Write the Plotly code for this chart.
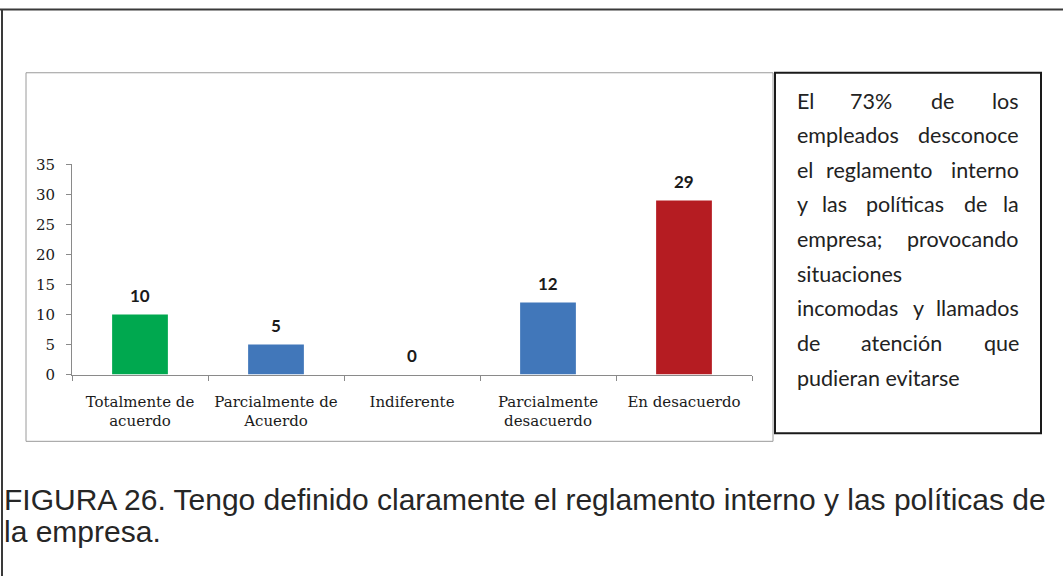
import plotly.graph_objects as go

# Survey answers and counts
categories = ["Totalmente de<br>acuerdo", "Parcialmente de<br>Acuerdo", "Indiferente",
              "Parcialmente<br>desacuerdo", "En desacuerdo"]
values = [10, 5, 0, 12, 29]
bar_colors = ["#00A84F", "#4177BA", "#4177BA", "#4177BA", "#B51C22"]
y_ticks = [0, 5, 10, 15, 20, 25, 30, 35]

# Side note, one list of words per line (justified lines spread their words)
note_lines = [
    ["El", "73%", "de", "los"],
    ["empleados", "desconoce"],
    ["el", "reglamento", "interno"],
    ["y", "las", "políticas", "de", "la"],
    ["empresa;", "provocando"],
    ["situaciones"],
    ["incomodas", "y", "llamados"],
    ["de", "atención", "que"],
    ["pudieran evitarse"],
]
# centre x of the inner words of each justified line (pixels)
note_mid_x = [
    [871, 942],
    [],
    [879],
    [834, 905, 975],
    [],
    [],
    [918],
    [901],
    [],
]
caption_lines = [
    "FIGURA 26. Tengo definido claramente el reglamento interno y las políticas de",
    "la empresa.",
]

W, H = 1063, 585
# page offset / vertical scale of the displayed page
TOP, KY = 8.0, 0.973


def px(x):
    return x / W


def py(y):
    # pixel row on the displayed page -> paper fraction
    yl = max((y - TOP) / KY, 0.5)
    return 1 - yl / H


fig = go.Figure()
fig.add_trace(go.Bar(
    x=categories, y=values, marker=dict(color=bar_colors, line=dict(width=0)),
    width=0.41, hoverinfo="skip",
))

annotations = []
# value labels above each bar
for c, v in zip(categories, values):
    annotations.append(dict(
        x=c, y=v, xref="x", yref="y", text=f"<b>{v}</b>", showarrow=False,
        yanchor="middle", yshift=19,
        font=dict(family="Lato", size=17, color="#1a1a1a"),
    ))

# side note text
left_x, right_x = 795, 1021
line_y0, line_step = 100, 34.75
note_font = dict(family="Lato", size=21.5, color="#222222")
for i, words in enumerate(note_lines):
    y = py(line_y0 + i * line_step)
    annotations.append(dict(x=px(left_x), y=y, xref="paper", yref="paper",
                            text=words[0], showarrow=False, xanchor="left",
                            yanchor="middle", font=note_font))
    if len(words) == 1:
        continue
    annotations.append(dict(x=px(right_x), y=y, xref="paper", yref="paper",
                            text=words[-1], showarrow=False, xanchor="right",
                            yanchor="middle", font=note_font))
    for w, cx in zip(words[1:-1], note_mid_x[i]):
        annotations.append(dict(x=px(cx), y=y, xref="paper", yref="paper",
                                text=w, showarrow=False, xanchor="center",
                                yanchor="middle", font=note_font))

# caption below
for i, line in enumerate(caption_lines):
    annotations.append(dict(
        x=px(2), y=py(500 + i * 33), xref="paper", yref="paper", text=line,
        showarrow=False, xanchor="left", yanchor="middle",
        font=dict(family="Liberation Sans", size=30, color="#262626"),
    ))

shapes = [
    # page frame (top and left edges)
    dict(type="line", xref="paper", yref="paper", x0=px(0), x1=px(W), y0=py(0), y1=py(0),
         line=dict(color="#3a3a3a", width=2)),
    dict(type="line", xref="paper", yref="paper", x0=px(2), x1=px(2), y0=py(0), y1=0,
         line=dict(color="#3a3a3a", width=2)),
    # chart area frame
    dict(type="rect", xref="paper", yref="paper", x0=px(26), x1=px(773), y0=py(72), y1=py(442),
         line=dict(color="#9a9a9a", width=1)),
    # note frame
    dict(type="rect", xref="paper", yref="paper", x0=px(775), x1=px(1041), y0=py(72), y1=py(434),
         line=dict(color="#1a1a1a", width=2)),
]

fig.update_layout(
    width=W, height=H, margin=dict(l=0, r=0, t=0, b=0),
    paper_bgcolor="white", plot_bgcolor="white", showlegend=False,
    annotations=annotations, shapes=shapes,
    xaxis=dict(
        domain=[px(72), px(752)], range=[-0.5, 4.5], type="category",
        showline=True, linecolor="#8a8a8a", linewidth=1, showgrid=False,
        ticks="outside", tickson="boundaries", ticklen=5, tickcolor="#8a8a8a",
        ticklabelstandoff=13,
        tickfont=dict(family="DejaVu Serif", size=15, color="#1a1a1a"),
        zeroline=False, fixedrange=True,
    ),
    yaxis=dict(
        domain=[py(375), py(164)], range=[0, 35], tickvals=y_ticks,
        showline=True, linecolor="#8a8a8a", linewidth=1, showgrid=False,
        ticks="outside", ticklen=5, tickcolor="#8a8a8a",
        ticklabelstandoff=8,
        tickfont=dict(family="DejaVu Serif", size=15, color="#1a1a1a"),
        zeroline=False, fixedrange=True,
    ),
)

fig.write_html("out.html")
